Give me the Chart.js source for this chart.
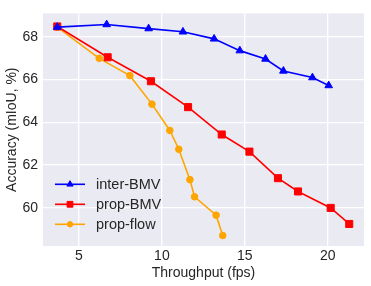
<!DOCTYPE html>
<html>
<head>
<meta charset="utf-8">
<script src="https://cdn.jsdelivr.net/npm/chart.js@4/dist/chart.umd.min.js"></script>
<style>
  html, body { margin: 0; padding: 0; background: #fff; }
  #wrap { width: 371px; height: 286px; }
</style>
</head>
<body>
<div id="wrap"><canvas id="GraphAcc" width="371" height="286"></canvas></div>
<script>
// values
var interX = [3.69, 6.67, 9.2, 11.27, 13.15, 14.7, 16.25, 17.33, 19.08, 20.06];
var interY = [68.45, 68.57, 68.38, 68.23, 67.9, 67.35, 66.96, 66.4, 66.09, 65.72];
var propX = [3.69, 6.73, 9.34, 11.58, 13.61, 15.28, 17.0, 18.21, 20.18, 21.3];
var propY = [68.48, 67.04, 65.92, 64.71, 63.43, 62.63, 61.39, 60.77, 60.0, 59.25];
var flowX = [3.69, 6.22, 8.07, 9.4, 10.48, 11.02, 11.69, 11.97, 13.27, 13.67];
var flowY = [68.45, 66.99, 66.18, 64.85, 63.62, 62.74, 61.32, 60.52, 59.66, 58.71];
var xTicks = [5, 10, 15, 20];
var yTicks = [60, 62, 64, 66, 68];

var txt = "#262626";
var font = "'Liberation Sans', Arial, sans-serif";

function pts(xs, ys) {
    var out = [];
    for (var i = 0; i < xs.length; i++) out.push({x: xs[i], y: ys[i]});
    return out;
}

function serie(label, xs, ys, color, style, radius) {
    return {
        label: label,
        data: pts(xs, ys),
        borderColor: color,
        backgroundColor: color,
        borderWidth: 1.6,
        pointStyle: style,
        pointRadius: radius,
        pointHoverRadius: radius,
        pointBorderWidth: 1,
        fill: false,
        tension: 0
    };
}

// grey panel behind the plot
var panel = {
    id: 'panel',
    beforeDraw: function(chart) {
        var a = chart.chartArea, ctx = chart.ctx;
        ctx.save();
        ctx.fillStyle = "#EAEAF2";
        ctx.fillRect(a.left, a.top, a.right - a.left, a.bottom - a.top);
        ctx.restore();
    }
};

// legend sits inside the plot, lower left
var innerLegend = {
    id: 'innerLegend',
    afterDatasetsDraw: function(chart) {
        var a = chart.chartArea, ctx = chart.ctx;
        ctx.save();
        ctx.font = "14.5px " + font;
        ctx.textBaseline = "middle";
        chart.data.datasets.forEach(function(ds, i) {
            var y = a.bottom - 61.7 + i * 20;
            var x0 = a.left + 12, x1 = a.left + 42;
            ctx.strokeStyle = ds.borderColor;
            ctx.lineWidth = ds.borderWidth;
            ctx.beginPath();
            ctx.moveTo(x0, y);
            ctx.lineTo(x1, y);
            ctx.stroke();
            ctx.fillStyle = ds.backgroundColor;
            ctx.strokeStyle = ds.borderColor;
            ctx.lineWidth = 1;
            Chart.helpers.drawPoint(ctx, {pointStyle: ds.pointStyle, radius: ds.pointRadius * 0.82, borderWidth: 1}, (x0 + x1) / 2, y);
            ctx.fillStyle = txt;
            ctx.fillText(ds.label, a.left + 53, y + 0.5);
        });
        ctx.restore();
    }
};

var ctxAcc = document.getElementById("GraphAcc");
var accChart = new Chart(ctxAcc, {
    type: 'line',
    data: {
        datasets: [
            serie('inter-BMV', interX, interY, "#0000FF", 'triangle', 4.4),
            serie('prop-BMV', propX, propY, "#FF0000", 'rect', 5),
            serie('prop-flow', flowX, flowY, "#FFA500", 'circle', 3.3)
        ]
    },
    options: {
        responsive: false,
        animation: false,
        layout: { padding: { left: 0, right: 7, top: 6, bottom: 0 } },
        plugins: { legend: { display: false }, tooltip: { enabled: false } },
        scales: {
            x: {
                type: 'linear',
                min: 2.83,
                max: 22.19,
                afterBuildTicks: function(s) { s.ticks = xTicks.map(function(v) { return {value: v}; }); },
                afterFit: function(s) { s.height = 40; },
                grid: { color: "#FFFFFF", lineWidth: 1.3, drawTicks: false },
                border: { display: false },
                ticks: { color: txt, font: { family: font, size: 14 }, padding: 2, maxRotation: 0 },
                title: { display: true, text: 'Throughput (fps)', color: txt, font: { family: font, size: 14 }, padding: { top: 0, bottom: 4 } }
            },
            y: {
                type: 'linear',
                min: 58.22,
                max: 69.09,
                afterBuildTicks: function(s) { s.ticks = yTicks.map(function(v) { return {value: v}; }); },
                afterFit: function(s) { s.width = 43; },
                grid: { color: "#FFFFFF", lineWidth: 1.3, drawTicks: false },
                border: { display: false },
                ticks: { color: txt, font: { family: font, size: 14 }, padding: 5 },
                title: { display: true, text: 'Accuracy (mIoU, %)', color: txt, font: { family: font, size: 14 }, padding: { top: 4, bottom: 0 } }
            }
        }
    },
    plugins: [panel, innerLegend]
});
</script>
</body>
</html>
